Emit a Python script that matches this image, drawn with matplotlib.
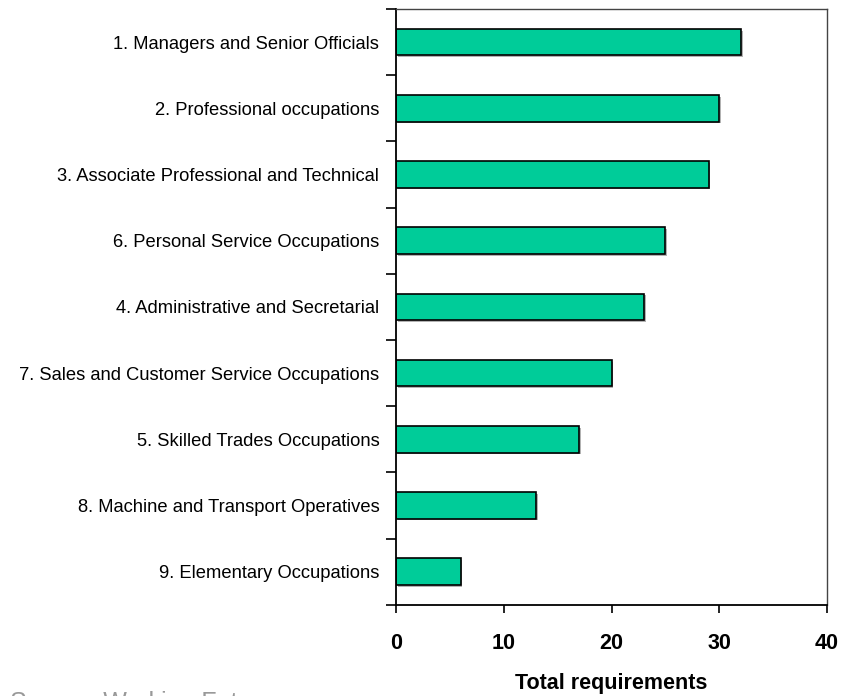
import matplotlib.pyplot as plt
import matplotlib.patheffects as pe
import numpy as np

plt.rcParams['font.family'] = ['Liberation Sans', 'DejaVu Sans']

categories = [
    "1. Managers and Senior Officials",
    "2. Professional occupations",
    "3. Associate Professional and Technical",
    "6. Personal Service Occupations",
    "4. Administrative and Secretarial",
    "7. Sales and Customer Service Occupations",
    "5. Skilled Trades Occupations",
    "8. Machine and Transport Operatives",
    "9. Elementary Occupations",
]
values = [32, 30, 29, 25, 23, 20, 17, 13, 6]
xticks = [0, 10, 20, 30, 40]

fig = plt.figure(figsize=(8.47, 6.96), dpi=100)
ax = fig.add_axes([0.4675, 0.131, 0.509, 0.856])

y = np.arange(len(categories))
bars = ax.barh(y, values, height=0.4, color="#00CC99", edgecolor="black", linewidth=1.2)
for b in bars:
    b.set_path_effects([pe.SimplePatchShadow(offset=(1.2, -1.2), shadow_rgbFace="gray", alpha=0.6),
                        pe.Normal()])

ax.set_ylim(len(categories) - 0.5, -0.5)
ax.set_xlim(0, 40)

ax.set_yticks(y)
ax.set_yticklabels(categories, fontsize=13.2)
ax.tick_params(axis="y", which="major", length=0, pad=12)
ax.set_yticks(np.arange(len(categories) + 1) - 0.5, minor=True)
ax.tick_params(axis="y", which="minor", length=7, width=1.2, direction="out")

ax.set_xticks(xticks)
ax.set_xticklabels([str(t) for t in xticks], fontsize=15.5, fontweight="bold")
ax.tick_params(axis="x", length=6, width=1.2, direction="out", pad=14)
ax.set_xlabel("Total requirements", fontsize=15.5, fontweight="bold", labelpad=14)

for s in ["left", "bottom"]:
    ax.spines[s].set_color("black")
    ax.spines[s].set_linewidth(1.3)
for s in ["top", "right"]:
    ax.spines[s].set_color("#444444")
    ax.spines[s].set_linewidth(1.0)

# source line sits at the very bottom edge, mostly cut off as in the original
fig.text(0.012, 1 - 691 / 696, "Source: Working Futures", fontsize=18, color="#999999", va="top")

fig.savefig("out.png", dpi=100)
